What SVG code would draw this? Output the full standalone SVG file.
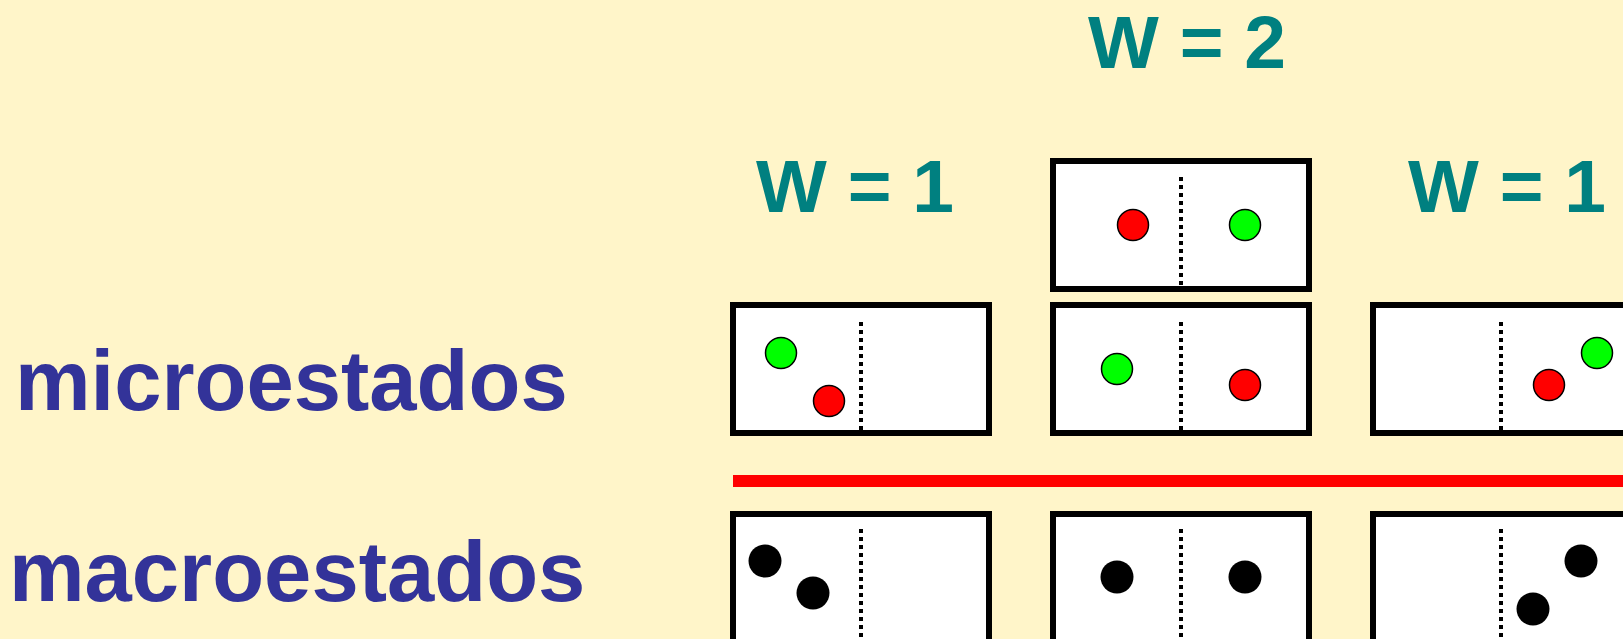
<svg xmlns="http://www.w3.org/2000/svg" width="1623" height="639" viewBox="0 0 1623 639">
  <defs>
    <style>
      .bg { fill: #FFF5C9; }
      .label { font-family: "Liberation Sans", Arial, sans-serif; font-weight: bold; font-size: 85px; fill: #333399; }
      .w { font-family: "Liberation Sans", Arial, sans-serif; font-weight: bold; font-size: 75px; fill: #008080; }
      .box { fill: #FFFFFF; stroke: #000000; stroke-width: 6; }
      .divider { stroke: #000000; stroke-width: 4; stroke-dasharray: 4 4; fill: none; }
      .green { fill: #00FF00; stroke: #000000; stroke-width: 1.5; }
      .red { fill: #FF0000; stroke: #000000; stroke-width: 1.5; }
      .dot { fill: #000000; }
      .sep { stroke: #FF0000; stroke-width: 12; }
    </style>
  </defs>

  <rect class="bg" x="0" y="0" width="1623" height="639"/>

  <!-- row titles -->
  <text id="label-micro" class="label" x="15" y="410">microestados</text>
  <text id="label-macro" class="label" x="9" y="601">macroestados</text>

  <!-- multiplicities -->
  <text id="w-left" class="w" x="756" y="212">W = 1</text>
  <text id="w-middle" class="w" x="1088" y="68">W = 2</text>
  <text id="w-right" class="w" x="1408" y="212">W = 1</text>

  <!-- microstate: both particles on the left -->
  <g id="micro-left">
    <rect class="box" x="733" y="305" width="256" height="128"/>
    <line class="divider" x1="861" y1="322" x2="861" y2="431"/>
    <circle class="green" cx="781" cy="353" r="15.5"/>
    <circle class="red" cx="829" cy="401" r="15.5"/>
  </g>

  <!-- microstates: one particle on each side -->
  <g id="micro-middle-top">
    <rect class="box" x="1053" y="161" width="256" height="128"/>
    <line class="divider" x1="1181" y1="177" x2="1181" y2="287"/>
    <circle class="red" cx="1133" cy="225" r="15.5"/>
    <circle class="green" cx="1245" cy="225" r="15.5"/>
  </g>
  <g id="micro-middle-bottom">
    <rect class="box" x="1053" y="305" width="256" height="128"/>
    <line class="divider" x1="1181" y1="322" x2="1181" y2="431"/>
    <circle class="green" cx="1117" cy="369" r="15.5"/>
    <circle class="red" cx="1245" cy="385" r="15.5"/>
  </g>

  <!-- microstate: both particles on the right -->
  <g id="micro-right">
    <rect class="box" x="1373" y="305" width="256" height="128"/>
    <line class="divider" x1="1501" y1="322" x2="1501" y2="431"/>
    <circle class="red" cx="1549" cy="385" r="15.5"/>
    <circle class="green" cx="1597" cy="353" r="15.5"/>
  </g>

  <!-- separator between the two rows -->
  <g id="separator">
    <line class="sep" x1="733" y1="481" x2="1623" y2="481"/>
  </g>

  <!-- macrostates -->
  <g id="macro-left">
    <rect class="box" x="733" y="514" width="256" height="128"/>
    <line class="divider" x1="861" y1="529" x2="861" y2="639"/>
    <circle class="dot" cx="765" cy="561" r="16.5"/>
    <circle class="dot" cx="813" cy="593" r="16.5"/>
  </g>
  <g id="macro-middle">
    <rect class="box" x="1053" y="514" width="256" height="128"/>
    <line class="divider" x1="1181" y1="529" x2="1181" y2="639"/>
    <circle class="dot" cx="1117" cy="577" r="16.5"/>
    <circle class="dot" cx="1245" cy="577" r="16.5"/>
  </g>
  <g id="macro-right">
    <rect class="box" x="1373" y="514" width="256" height="128"/>
    <line class="divider" x1="1501" y1="529" x2="1501" y2="639"/>
    <circle class="dot" cx="1581" cy="561" r="16.5"/>
    <circle class="dot" cx="1533" cy="609" r="16.5"/>
  </g>
</svg>
